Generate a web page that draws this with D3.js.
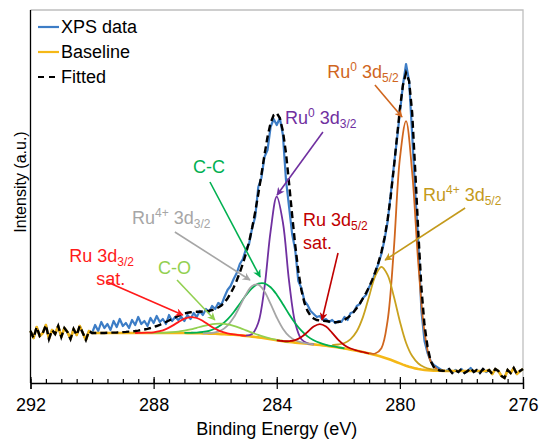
<!DOCTYPE html>
<html><head><meta charset="utf-8">
<script src="https://cdn.jsdelivr.net/npm/d3@7"></script>
<style>
body{margin:0;background:#fff}
svg{display:block}
text{font-family:"Liberation Sans",Arial,Helvetica,sans-serif;fill:#000}
</style>
</head><body>
<svg id="chart" width="541" height="439"></svg>
<script>
// ---------------- DATA ----------------
// Binding energy grid of the measured spectrum (eV), 292 -> 276 eV in 0.1 eV steps
const energyStart = 292, energyStep = 0.1;
// XPS data (a.u.)
const xpsData = [
 52,45,56,47,50,58,44,53,49,57,46,55,51,44,54,48,57,50,43,52,
 50,58,52,61,55,59,53,62,56,64,57,60,55,63,58,66,59,62,57,65,60,67,61,64,59,68,62,66,63,
 66,62,68,64,70,66,72,68,74,71,77,74,80,78,86,93,97,104,110,119,124,134,139,155,166,196,205,226,233,256,
 264,258,265,248,203,176,149,133,102,95,82,78,
 72,69,66,67,63,64,61,63,60,62,61,66,63,70,71,77,79,85,88,96,
 101,111,119,129,143,161,188,216,242,270,298,319,302,248,190,140,72,42,30,22,
 18,16,14,12,12,14,10,13,11,14,10,12,15,11,13,10,14,11,13,9,
 14,12,7,5,13,10,15,9,12,14
];
// Shirley-type baseline (a.u.)
const baseline = [
 52,45,56,47,50,58,44,53,49,57,46,55,51,44,54,48,57,50,43,52,
 50,50,50,50,50,50,50,50,50,50,50,50,50,50,50,50,50,50,50,50,50,50,50,50,50,50,50,50,50,50,50,
 49.9,49.9,49.8,49.8,49.7,49.6,49.5,49.4,49.3,49.2,49.1,48.9,48.8,48.6,48.4,48.2,48,47.7,47.4,47.1,
 46.8,46.4,46,45.6,45.2,44.7,44.2,43.7,43.2,42.7,42.2,41.8,41.4,41,40.7,40.4,40.1,39.8,39.5,39.2,
 38.9,38.6,38.3,38,37.6,37.2,36.8,36.4,36,35.5,35,34.5,34,33.4,32.8,32.2,31.6,30.9,30.2,29.5,
 28.8,28,27.2,26.3,25.3,24.3,23.2,22,20.8,19.6,18.4,17.3,16.3,15.4,14.6,14,13.5,13.1,12.8,12.6,
 12.4,12.3,12.2,12.1,12,12,12,12,12,12,12,12,12,12,12,12,12,12,
 13,9,14,12,7,5,13,10,15,9,12,14
];
// Fitted envelope (a.u.)
const fitted = [
 52,45,56,47,50,58,44,53,49,57,46,55,51,44,54,48,57,50,43,52,
 50,50,50,50,50,50.2,50.3,50.4,50.5,50.7,50.9,51.1,51.4,51.7,52,52.4,52.9,53.5,54.2,55,
 56,57,58.2,59.5,61,62.5,64,65.5,67,68.3,69.4,70.2,70.7,71,71.2,71.3,71.5,71.8,72.3,73,
 74,75.5,77.5,80.5,84.5,89.5,95.5,102.5,110.5,119.5,129.5,141,155,171,189,208,228,246,260,268,
 270,265,252,230,200,168,138,112,93,80,72,67,64.5,63,62.5,62.3,62,61.5,61,60.8,
 61,61.8,63.2,65.2,67.8,71,75,79.5,84.5,90,96,103,111,120,131,145,163,186,214,244,
 274,298,310,302,270,212,150,95,58,36,22,16,13.5,12.5,12.2,12,
 14,10,13,11,14,10,12,15,11,13,10,14,11,13,9,14,12,7,5,13,10,15,9,12,14
];
// Fitted components: intensity above the baseline, sampled every 0.2 eV from a start energy
const componentStep = 0.2;
const ru0_3d52 = [0.3,1.5,8.5,37.8,110,204.7,244.5,195,105,38,9,1.5,0.2,0];                  // from 281.0
const ru4_3d52 = [1.5,3,5.5,10.5,19.5,35,57,79,89.8,83.8,65,42,23,11.5,5.5,2.6,1.2,0.5,0.2,0]; // from 282.2
const ru0_3d32 = [0.3,2.6,14.6,50.4,108,143.7,118.7,60.9,19.5,3.9,0.5,0];                   // from 285.0
const cc       = [0.1,0.3,0.6,1.4,2.8,5.3,9.3,15,22.6,31.5,40.7,48.5,53.7,54.9,52,45.6,37,27.8,19.4,12.5,7.4,4.1,2.1,1,0.4,0.2,0.1]; // from 287.0
const ru4_3d32 = [0.1,0.4,1.4,3.8,8.7,17.2,28.9,41.5,50.7,52.7,46.8,35.4,22.8,12.5,5.8,2.3,0.8,0.2,0.1]; // from 286.4
const co       = [0,0.1,0.2,0.4,0.8,1.4,2.4,3.7,5.4,7.2,8.8,10,10.5,10.1,9,7.4,5.6,3.9,2.5,1.5,0.8,0.4,0.2,0.1]; // from 288.2
const sat_3d32 = [0,0.1,0.3,0.7,1.8,3.9,7.1,10.9,14.3,16,15.2,12.4,8.5,5,2.5,1.1,0.4,0.1,0]; // from 288.6
const sat_3d52 = [0,0.2,0.8,2.4,6.1,11.8,17.8,20.9,19.2,13.7,7.6,3.3,1.1,0.3,0.1,0];      // from 284.0
const componentStarts = [281.0, 282.2, 285.0, 287.0, 286.4, 288.2, 288.6, 284.0];

const xTicks = [292, 288, 284, 280, 276];
const legendLabels = ["XPS data", "Baseline", "Fitted"];

// ---------------- CHART ----------------
const svg = d3.select("#chart");
const x = d3.scaleLinear().domain([292, 276]).range([30.5, 523]);
const y = d3.scaleLinear().domain([0, 373]).range([383, 10]);

const energyAt = i => energyStart - i * energyStep;
const baseAt = e => baseline[Math.round((energyStart - e) / energyStep)];

// plot frame (light gray top/right)
svg.append("path").attr("d", `M${x(292)},${y(373)}H${x(276)}V${y(0)}`)
  .attr("fill", "none").attr("stroke", "#bfbfbf").attr("stroke-width", 1.3);

const toPts = arr => arr.map((v, i) => [energyAt(i), v]);
const lin = d3.line().x(d => x(d[0])).y(d => y(d[1]));
const smooth = d3.line().x(d => x(d[0])).y(d => y(d[1])).curve(d3.curveCatmullRom);

const g = svg.append("g");
g.append("path").attr("d", lin(toPts(xpsData))).attr("fill", "none")
  .attr("stroke", "#3d7dc6").attr("stroke-width", 2.2).attr("stroke-linejoin", "round");

const comps = [
  {v: ru0_3d52, c: "#d0661e"},
  {v: ru4_3d52, c: "#c9a21e"},
  {v: ru0_3d32, c: "#7030a0"},
  {v: cc,       c: "#00b050"},
  {v: ru4_3d32, c: "#a6a6a6"},
  {v: co,       c: "#92d050"},
  {v: sat_3d32, c: "#ff1a1a"},
  {v: sat_3d52, c: "#c00000"}
];

g.append("path").attr("d", lin(toPts(baseline))).attr("fill", "none")
  .attr("stroke", "#f5b817").attr("stroke-width", 2.6).attr("stroke-linejoin", "round");

comps.forEach((cp, k) => {
  const s = componentStarts[k];
  const pts = cp.v.map((v, i) => {
    const e = +(s - i * componentStep).toFixed(2);
    return [e, v + baseAt(e)];
  });
  g.append("path").attr("d", smooth(pts)).attr("fill", "none")
    .attr("stroke", cp.c).attr("stroke-width", 1.8);
});

g.append("path").attr("d", lin(toPts(fitted))).attr("fill", "none")
  .attr("stroke", "#000").attr("stroke-width", 2.4).attr("stroke-dasharray", "7,4");

// axes
const axisG = svg.append("g").attr("transform", `translate(0,${y(0)})`);
axisG.call(d3.axisBottom(x).tickValues(xTicks).tickSize(6).tickPadding(9).tickFormat(d3.format("d")));
axisG.call(g2 => g2.select(".domain").attr("stroke", "#000").attr("stroke-width", 1.3));
axisG.selectAll("text").attr("font-size", 18).attr("font-family", "Liberation Sans, Arial, sans-serif");
const upG = svg.append("g").attr("transform", `translate(0,${y(0)})`);
upG.call(d3.axisTop(x).tickValues(d3.range(292, 275.9, -0.5)).tickSize(4).tickFormat(""));
upG.select(".domain").remove();
const upMaj = svg.append("g").attr("transform", `translate(0,${y(0)})`);
upMaj.call(d3.axisTop(x).tickValues(xTicks).tickSize(6).tickFormat(""));
upMaj.select(".domain").remove();
svg.selectAll(".tick line").attr("stroke", "#000").attr("stroke-width", 1.2);

// y axis line
svg.append("line").attr("x1", x(292)).attr("x2", x(292)).attr("y1", y(373)).attr("y2", y(0))
  .attr("stroke", "#000").attr("stroke-width", 1.3);

// axis titles
svg.append("text").attr("x", (x(292) + x(276)) / 2).attr("y", 435).attr("text-anchor", "middle")
  .attr("font-size", 18).text("Binding Energy (eV)");
svg.append("text").attr("transform", "translate(26,182) rotate(-90)").attr("text-anchor", "middle")
  .attr("font-size", 16).text("Intensity (a.u.)");

// legend
const legStyles = [
  {c: "#3d7dc6", dash: null, w: 2.2},
  {c: "#f5b817", dash: null, w: 2.2},
  {c: "#000", dash: "6,5", w: 2.2}
];
legendLabels.forEach((lab, i) => {
  const cy = 27 + i * 25;
  svg.append("line").attr("x1", 38).attr("x2", 59).attr("y1", cy).attr("y2", cy)
    .attr("stroke", legStyles[i].c).attr("stroke-width", legStyles[i].w)
    .attr("stroke-dasharray", legStyles[i].dash);
  svg.append("text").attr("x", 61).attr("y", cy + 6.4).attr("font-size", 18).text(lab);
});

// annotations: label parts [text, kind] kind: n normal, sup, sub
const annotations = [
  {c: "#d0661e", lines: [[["Ru","n"],["0","sup"],[" 3d","n"],["5/2","sub"]]], tx: 282.36, ty: 305, from: [280.81, 298], to: [279.93, 266]},
  {c: "#7030a0", lines: [[["Ru","n"],["0","sup"],[" 3d","n"],["3/2","sub"]]], tx: 283.73, ty: 259, from: [282.50, 251], to: [283.99, 188]},
  {c: "#00b050", lines: [[["C-C","n"]]], tx: 286.72, ty: 210, from: [286.17, 201], to: [284.54, 106]},
  {c: "#a6a6a6", lines: [[["Ru","n"],["4+","sup"],[" 3d","n"],["3/2","sub"]]], tx: 288.70, ty: 159, from: [287.31, 151], to: [284.87, 103]},
  {c: "#92d050", lines: [[["C-O","n"]]], tx: 287.86, ty: 109, from: [287.24, 103], to: [286.01, 63]},
  {c: "#ff1a1a", lines: [[["Ru 3d","n"],["3/2","sub"]], [["sat.","n"]]], tx: 290.74, ty: 121, indent: [0, 27], from: [289.51, 101], to: [287.05, 68]},
  {c: "#c00000", lines: [[["Ru 3d","n"],["5/2","sub"]], [["sat.","n"]]], tx: 283.15, ty: 157, indent: [0, 0], from: [282.01, 130], to: [282.53, 63]},
  {c: "#c49a1c", lines: [[["Ru","n"],["4+","sup"],[" 3d","n"],["5/2","sub"]]], tx: 279.25, ty: 182, from: [277.88, 175], to: [280.48, 123]}
];

const defs = svg.append("defs");
annotations.forEach((a, k) => {
  const id = "ah" + k;
  defs.append("marker").attr("id", id).attr("viewBox", "0 0 10 10").attr("refX", 9).attr("refY", 5)
    .attr("markerWidth", 9).attr("markerHeight", 8).attr("markerUnits", "userSpaceOnUse")
    .attr("orient", "auto")
    .append("path").attr("d", "M0,0L10,5L0,10L3,5Z").attr("fill", a.c);
  svg.append("line")
    .attr("x1", x(a.from[0])).attr("y1", y(a.from[1]))
    .attr("x2", x(a.to[0])).attr("y2", y(a.to[1]))
    .attr("stroke", a.c).attr("stroke-width", 1.6).attr("marker-end", `url(#${id})`);
  a.lines.forEach((ln, li) => {
    const t = svg.append("text")
      .attr("x", x(a.tx) + (a.indent ? a.indent[li] : 0))
      .attr("y", y(a.ty) + li * 23)
      .attr("font-size", 18).style("fill", a.c);
    let prev = 0;
    ln.forEach(([s, kind]) => {
      const target = kind === "sup" ? -7 : kind === "sub" ? 4 : 0;
      const ts = t.append("tspan").text(s).attr("dy", target - prev);
      if (kind !== "n") ts.attr("font-size", 12);
      prev = target;
    });
  });
});
</script>
</body></html>
